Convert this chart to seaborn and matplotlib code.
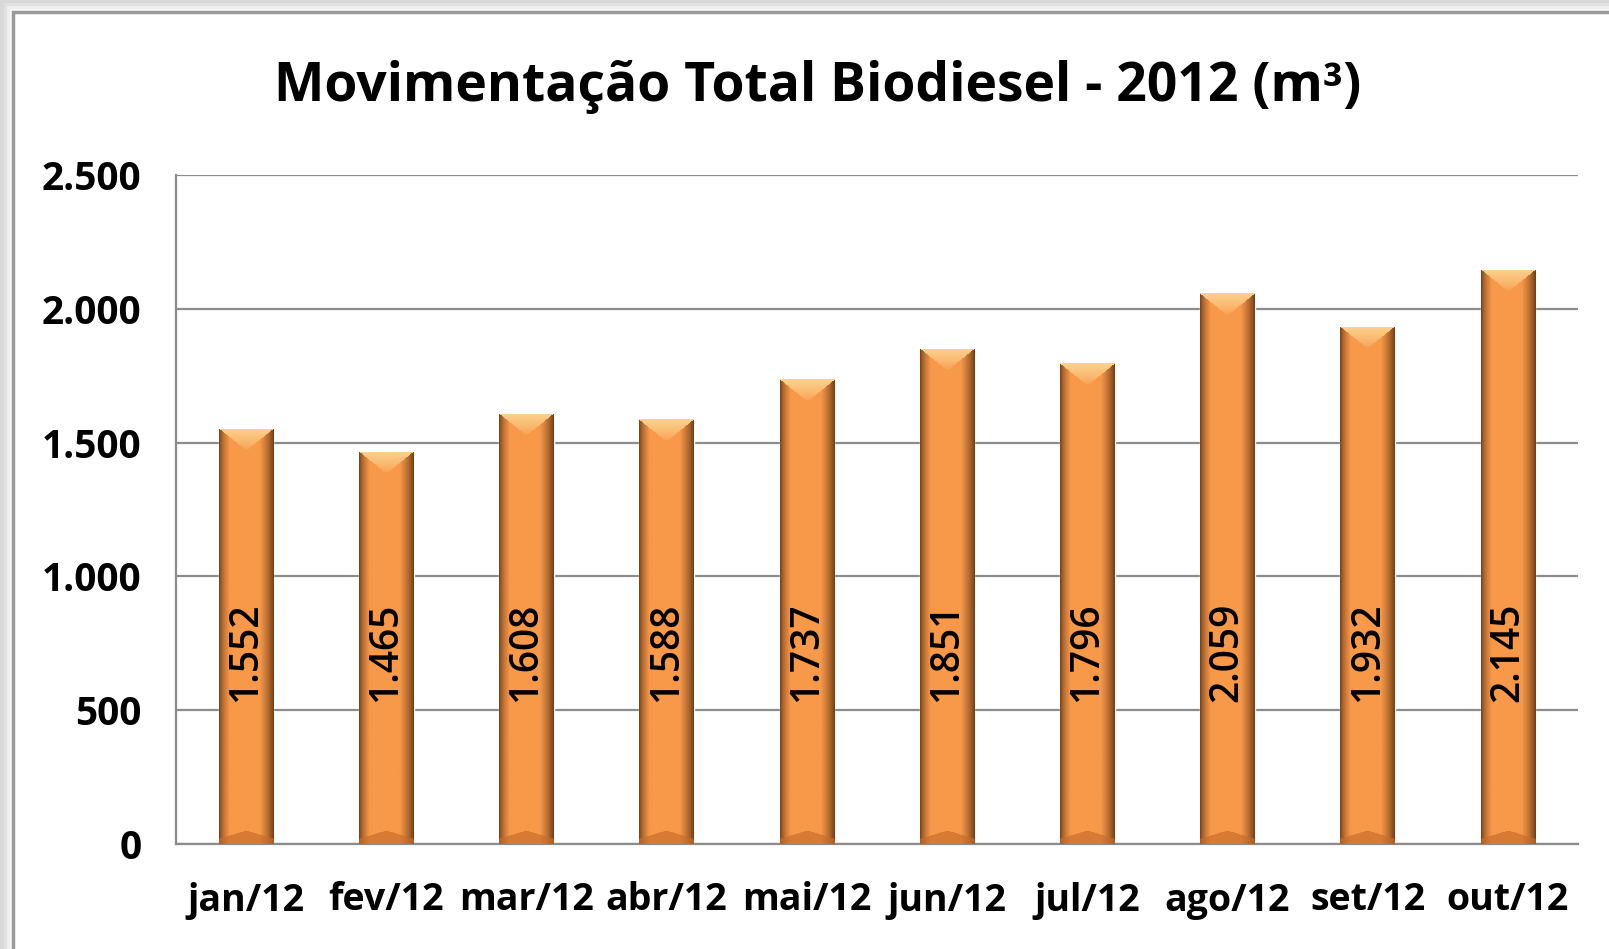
import numpy as np
import pandas as pd
import matplotlib
matplotlib.use("Agg")
import matplotlib.pyplot as plt
import seaborn as sns
from matplotlib.patches import Rectangle
from matplotlib.ticker import FuncFormatter, FixedLocator

# data
meses = ['jan/12', 'fev/12', 'mar/12', 'abr/12', 'mai/12',
         'jun/12', 'jul/12', 'ago/12', 'set/12', 'out/12']
volumes = [1552, 1465, 1608, 1588, 1737, 1851, 1796, 2059, 1932, 2145]
y_ticks = [0, 500, 1000, 1500, 2000, 2500]
titulo = 'Movimentação Total Biodiesel - 2012 (m³)'

sns.set_style("white")
plt.rcParams['font.family'] = ['Open Sans', 'DejaVu Sans']
plt.rcParams['text.color'] = 'black'
plt.rcParams['xtick.color'] = 'black'
plt.rcParams['ytick.color'] = 'black'

df = pd.DataFrame({'mes': meses, 'volume': volumes})

W, H = 1609, 949
fig = plt.figure(figsize=(W / 100, H / 100), dpi=100)
fig.patch.set_facecolor('#d8d8d8')

# soft shadow + white panel with grey frame
for i, a in enumerate([0.25, 0.45, 0.7]):
    off = (3 - i) * 3
    fig.patches.append(Rectangle(((13 - off) / W, -0.2), 1.5, 1 - (12 - off) / H + 0.2,
                                 transform=fig.transFigure, facecolor='white',
                                 alpha=a, edgecolor='none', zorder=0))
fig.patches.append(Rectangle((13 / W, -0.2), 1.5, 1 - 12 / H + 0.2,
                             transform=fig.transFigure, facecolor='white',
                             edgecolor='#9a9a9a', linewidth=2.5, zorder=1))

ax = fig.add_axes([176 / W, 1 - 844 / H, (1578 - 176) / W, (844 - 175) / H])
ax.set_facecolor('none')
ax.set_zorder(5)

sns.barplot(data=df, x='mes', y='volume', color='#F79646', width=0.39,
            saturation=1, ax=ax, zorder=2)

ax.set_ylim(0, 2500)
ax.set_xlim(-0.5, len(meses) - 0.5)

# bevel-like shading for each bar
px_per_unit = (844 - 175) / 2500.0
base = np.array([0.97, 0.60, 0.29])
dark = np.array([0.40, 0.21, 0.07])
light = np.array([0.99, 0.82, 0.55])
bottom_c = np.array([0.78, 0.42, 0.16])
for patch, val in zip(ax.patches, volumes):
    x0 = patch.get_x()
    bw = patch.get_width()
    rows = max(int(val * px_per_unit), 2)
    cols = 56
    u = (np.arange(cols) + 0.5) / cols
    s_left = np.clip(u / 0.2, 0, 1) ** 0.6
    s_right = np.clip((1 - u) / 0.26, 0, 1) ** 0.7
    s = np.minimum(s_left, s_right)
    prof = dark + (base - dark) * s[:, None]
    img = np.repeat(prof[None, :, :], rows, axis=0)
    d = np.abs(u - 0.5) * 2
    bevel = 22
    for r in range(min(bevel, rows)):
        m = r / bevel < (1 - d)
        t = 1 - r / bevel
        img[r, m] = base + (light - base) * t ** 0.7
    bot = 14
    for r in range(max(rows - bot, 0), rows):
        q = (rows - r) / bot
        m = q < (1 - d * 0.6)
        img[r, m] = img[r, m] * 0.35 + bottom_c * 0.65
    im = ax.imshow(img, extent=[x0, x0 + bw, 0, val], aspect='auto',
                   origin='upper', zorder=3, interpolation='bilinear')
    im.set_clip_path(patch)

ax.set_ylim(0, 2500)
ax.set_xlim(-0.5, len(meses) - 0.5)

# value labels inside bars
for i, val in enumerate(volumes):
    ax.text(i, 715, f'{val:,}'.replace(',', '.'), rotation=90, ha='center',
            va='center', fontsize=28, fontweight='semibold', color='black', zorder=5)

ax.yaxis.set_major_locator(FixedLocator(y_ticks))
ax.yaxis.set_major_formatter(FuncFormatter(lambda v, p: f'{int(v):,}'.replace(',', '.')))
ax.yaxis.grid(True, color='#8c8c8c', linewidth=1.6, zorder=1)
ax.set_axisbelow(True)

ax.set_xticks(range(len(meses)))
ax.set_xticklabels(meses)
ax.set_xticks(np.arange(-0.5, len(meses), 1.0), minor=True)
ax.tick_params(axis='x', which='major', length=0, pad=27, labelsize=27)
ax.tick_params(axis='x', which='minor', length=11, width=1.6, color='#8c8c8c', direction='out')
ax.tick_params(axis='y', length=11, width=1.6, color='#8c8c8c', pad=14, labelsize=28)
for lab in ax.get_xticklabels() + ax.get_yticklabels():
    lab.set_fontweight('bold')
    lab.set_color('black')

for side in ['top', 'right']:
    ax.spines[side].set_visible(False)
for side in ['left', 'bottom']:
    ax.spines[side].set_color('#8c8c8c')
    ax.spines[side].set_linewidth(1.6)

ax.set_xlabel('')
ax.set_ylabel('')

fig.text(0.508, 1 - 87 / H, titulo, ha='center', va='center',
         fontsize=38.5, fontweight='bold', color='black', zorder=6)

fig.savefig('out.png', dpi=100)
